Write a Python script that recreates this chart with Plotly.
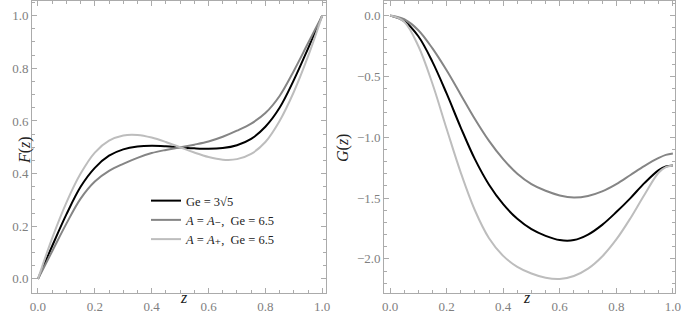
import plotly.graph_objects as go
from plotly.subplots import make_subplots

# sample points in z
zF = [0.0, 0.05, 0.1, 0.15, 0.2, 0.25, 0.3, 0.35, 0.4, 0.45, 0.5,
      0.55, 0.6, 0.65, 0.7, 0.75, 0.8, 0.85, 0.9, 0.95, 1.0]
zG = [0.0, 0.05, 0.1, 0.15, 0.2, 0.25, 0.3, 0.35, 0.4, 0.45, 0.5,
      0.55, 0.6, 0.65, 0.7, 0.75, 0.8, 0.85, 0.9, 0.95, 0.975, 1.0]

# F(z) curves
F_ge35 = [0.0, 0.125, 0.245, 0.35, 0.422, 0.468, 0.492, 0.503, 0.506, 0.504, 0.5,
          0.496, 0.494, 0.497, 0.508, 0.532, 0.578, 0.65, 0.755, 0.875, 1.0]
F_minus = [0.0, 0.105, 0.21, 0.305, 0.37, 0.41, 0.437, 0.46, 0.478, 0.49, 0.5,
           0.51, 0.522, 0.54, 0.563, 0.59, 0.63, 0.695, 0.79, 0.895, 1.0]
F_plus = [0.0, 0.155, 0.29, 0.4, 0.48, 0.525, 0.545, 0.547, 0.537, 0.52, 0.5,
          0.48, 0.463, 0.453, 0.455, 0.475, 0.52, 0.6, 0.71, 0.845, 1.0]

# G(z) curves
G_ge35 = [0.0, -0.045, -0.17, -0.38, -0.64, -0.92, -1.18, -1.39, -1.55, -1.67, -1.755,
          -1.81, -1.845, -1.845, -1.8, -1.72, -1.615, -1.5, -1.375, -1.27, -1.24, -1.232]
G_minus = [0.0, -0.03, -0.12, -0.27, -0.45, -0.65, -0.85, -1.03, -1.18, -1.3, -1.385,
           -1.44, -1.478, -1.495, -1.482, -1.445, -1.385, -1.31, -1.235, -1.17, -1.145, -1.134]
G_plus = [0.0, -0.05, -0.25, -0.56, -0.93, -1.29, -1.6, -1.83, -1.975, -2.065, -2.12,
          -2.155, -2.165, -2.14, -2.08, -1.98, -1.84, -1.665, -1.47, -1.29, -1.245, -1.232]

names = ['Ge = 3√5',
         '<i>A</i> = <i>A</i>₋,  Ge = 6.5',
         '<i>A</i> = <i>A</i>₊,  Ge = 6.5']
colors = ['#000000', '#858585', '#bdbdbd']

SERIF = 'Liberation Serif, DejaVu Serif, serif'

fig = make_subplots(rows=1, cols=2)

for F, G, name, c in zip([F_ge35, F_minus, F_plus], [G_ge35, G_minus, G_plus], names, colors):
    fig.add_trace(go.Scatter(x=zF, y=F, name=name, mode='lines',
                             line=dict(color=c, width=2, shape='spline', smoothing=1)), row=1, col=1)
    fig.add_trace(go.Scatter(x=zG, y=G, name=name, mode='lines', showlegend=False,
                             line=dict(color=c, width=2, shape='spline', smoothing=1)), row=1, col=2)

axis_style = dict(showgrid=False, zeroline=False, showline=True, linecolor='#ababab',
                  linewidth=1, mirror='allticks', ticks='inside', ticklen=5, automargin=False,
                  ticklabeloverflow='allow',
                  tickcolor='#ababab', tickfont=dict(family=SERIF, size=13, color='#808080'))

fig.update_xaxes(**axis_style, tickvals=[0, 0.2, 0.4, 0.6, 0.8, 1.0], tickformat='.1f',
                 ticklabelstandoff=2,
                 minor=dict(dtick=0.05, ticks='inside', ticklen=3, tickcolor='#ababab'))
fig.update_xaxes(domain=[0.047, 0.479], range=[-0.021, 1.014], row=1, col=1)
fig.update_xaxes(domain=[0.564, 0.991], range=[-0.021, 1.007], row=1, col=2)

fig.update_yaxes(**axis_style)
fig.update_yaxes(domain=[0.079, 0.998], range=[-0.053, 1.057], tickformat='.1f',
                 tickvals=[0, 0.2, 0.4, 0.6, 0.8, 1.0],
                 minor=dict(dtick=0.05, ticks='inside', ticklen=3, tickcolor='#ababab'),
                 row=1, col=1)
fig.update_yaxes(domain=[0.079, 0.998], range=[-2.279, 0.123], tickformat='.1f',
                 tickvals=[-2.0, -1.5, -1.0, -0.5, 0.0],
                 minor=dict(dtick=0.1, ticks='inside', ticklen=3, tickcolor='#ababab'),
                 row=1, col=2)

# axis titles
title_font = dict(family=SERIF, size=16, color='#222222')
fig.add_annotation(text='<i>z</i>', x=178/681, y=1-308/318, xref='paper', yref='paper',
                   showarrow=False, font=title_font)
fig.add_annotation(text='<i>z</i>', x=533/681, y=1-308/318, xref='paper', yref='paper',
                   showarrow=False, font=title_font)
fig.add_annotation(text='<i>F</i>(<i>z</i>)', x=14/681, y=1-150/318, xref='paper', yref='paper',
                   showarrow=False, textangle=-90, font=title_font)
fig.add_annotation(text='<i>G</i>(<i>z</i>)', x=343/681, y=1-148/318, xref='paper', yref='paper',
                   showarrow=False, textangle=-90, font=title_font)

fig.update_layout(
    width=681, height=318,
    margin=dict(l=0, r=0, t=0, b=0),
    paper_bgcolor='white', plot_bgcolor='white',
    showlegend=True,
    legend=dict(x=146/681, y=1-186/318, xanchor='left', yanchor='top',
                bgcolor='rgba(0,0,0,0)', font=dict(family=SERIF, size=12.5, color='#222222'),
                tracegroupgap=0),
)

# drop the page's default body margin so the figure sits at the window's corner
fig.write_html("out.html", config={'displayModeBar': False},
               post_script="document.body.style.margin='0';")
